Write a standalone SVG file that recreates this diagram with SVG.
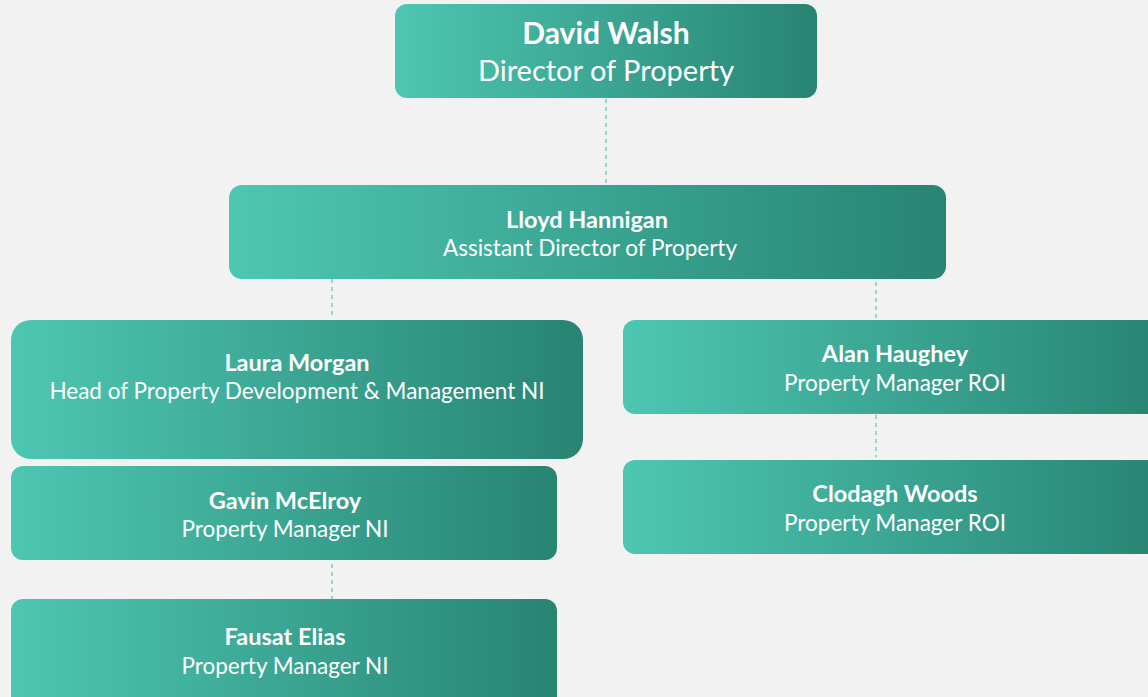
<svg xmlns="http://www.w3.org/2000/svg" width="1148" height="697" viewBox="0 0 1148 697">
  <defs>
    <linearGradient id="g" x1="0" y1="0" x2="1" y2="0">
      <stop offset="0" stop-color="#4dc7b2"/>
      <stop offset="1" stop-color="#288473"/>
    </linearGradient>
    <style>
      .box { fill: url(#g); }
      .name { font-family: Lato, "Liberation Sans", sans-serif; font-weight: bold; fill: #ffffff; text-anchor: middle; font-size: 23.5px; }
      .title { font-family: Lato, "Liberation Sans", sans-serif; fill: #ffffff; text-anchor: middle; font-size: 22.5px; }
      .conn line { stroke: #4dc7b2; stroke-width: 1.2; stroke-dasharray: 4 4; }
    </style>
  </defs>
  <rect width="1148" height="697" fill="#f2f2f2"/>
  <g class="conn" id="connectors">
    <line x1="606" y1="99" x2="606" y2="185"/>
    <line x1="332" y1="279" x2="332" y2="316"/>
    <line x1="876" y1="274" x2="876" y2="318"/>
    <line x1="332" y1="556" x2="332" y2="616"/>
    <line x1="876" y1="415" x2="876" y2="457"/>
  </g>
  <g id="david">
    <rect class="box" x="395" y="4" width="422" height="94" rx="12"/>
    <text class="name" x="606" y="44" style="font-size:30px">David Walsh</text>
    <text class="title" x="606" y="81" style="font-size:29px">Director of Property</text>
  </g>
  <g id="lloyd">
    <rect class="box" x="229" y="185" width="717" height="94" rx="13"/>
    <text class="name" x="587" y="228">Lloyd Hannigan</text>
    <text class="title" x="590" y="256">Assistant Director of Property</text>
  </g>
  <g id="laura">
    <rect class="box" x="11" y="320" width="572" height="139" rx="20"/>
    <text class="name" x="297" y="371">Laura Morgan</text>
    <text class="title" x="297" y="399">Head of Property Development &amp; Management NI</text>
  </g>
  <g id="gavin">
    <rect class="box" x="11" y="466" width="546" height="94" rx="12"/>
    <text class="name" x="285" y="509">Gavin McElroy</text>
    <text class="title" x="285" y="537">Property Manager NI</text>
  </g>
  <g id="fausat">
    <rect class="box" x="11" y="599" width="546" height="110" rx="12"/>
    <text class="name" x="285" y="645">Fausat Elias</text>
    <text class="title" x="285" y="674">Property Manager NI</text>
  </g>
  <g id="alan">
    <rect class="box" x="623" y="320" width="540" height="94" rx="12"/>
    <text class="name" x="895" y="362">Alan Haughey</text>
    <text class="title" x="895" y="391">Property Manager ROI</text>
  </g>
  <g id="clodagh">
    <rect class="box" x="623" y="460" width="540" height="94" rx="12"/>
    <text class="name" x="895" y="502">Clodagh Woods</text>
    <text class="title" x="895" y="531">Property Manager ROI</text>
  </g>
</svg>
